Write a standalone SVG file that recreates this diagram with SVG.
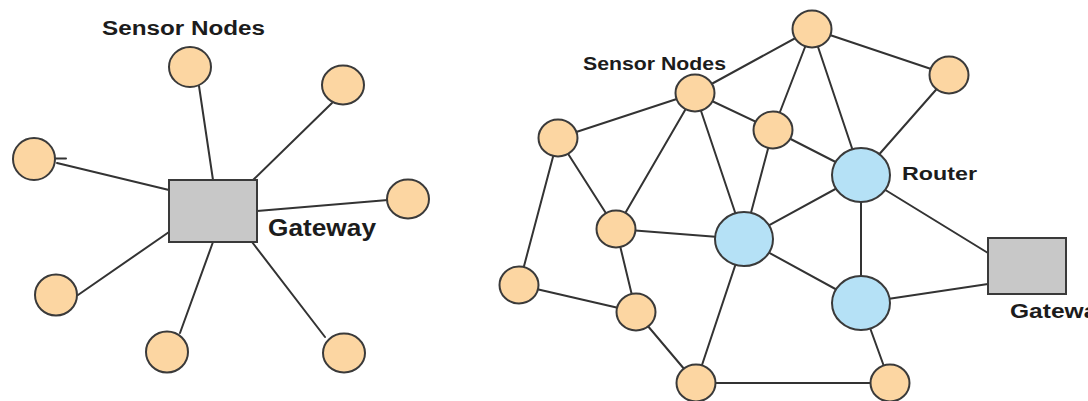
<svg xmlns="http://www.w3.org/2000/svg" width="1088" height="401" viewBox="0 0 1088 401">
<style>
.bg{fill:#ffffff}
.e line{stroke:#333333;stroke-width:2;stroke-linecap:round}
.s{fill:#fcd6a2;stroke:#3a3a3a;stroke-width:2}
.r{fill:#b5e1f6;stroke:#3a3a3a;stroke-width:2}
.g{fill:#c8c8c8;stroke:#3a3a3a;stroke-width:2}
.t{font-family:"Liberation Sans",Arial,sans-serif;font-weight:bold;fill:#1c1c1c}
</style>
<rect class="bg" x="0" y="0" width="1088" height="401"/>
<g id="connectors" class="e">
  <!-- star -->
  <line x1="199" y1="86" x2="213" y2="180"/>
  <line x1="332" y1="103" x2="253" y2="180"/>
  <line x1="57" y1="163" x2="169" y2="190"/>
  <line x1="55" y1="158.5" x2="66" y2="158.5"/>
  <line x1="388" y1="200" x2="257" y2="211"/>
  <line x1="78" y1="295" x2="169" y2="232"/>
  <line x1="180" y1="333" x2="213" y2="242"/>
  <line x1="325" y1="337" x2="252" y2="242"/>
  <!-- mesh -->
  <line x1="812" y1="29" x2="695" y2="93"/>
  <line x1="812" y1="29" x2="949" y2="75"/>
  <line x1="812" y1="29" x2="773" y2="130"/>
  <line x1="812" y1="29" x2="861" y2="175"/>
  <line x1="949" y1="75" x2="861" y2="175"/>
  <line x1="695" y1="93" x2="558" y2="138"/>
  <line x1="695" y1="93" x2="773" y2="130"/>
  <line x1="773" y1="130" x2="861" y2="175"/>
  <line x1="695" y1="93" x2="616" y2="229"/>
  <line x1="695" y1="93" x2="744" y2="239"/>
  <line x1="773" y1="130" x2="744" y2="239"/>
  <line x1="558" y1="138" x2="616" y2="229"/>
  <line x1="558" y1="138" x2="519" y2="285"/>
  <line x1="616" y1="229" x2="744" y2="239"/>
  <line x1="616" y1="229" x2="636" y2="312"/>
  <line x1="744" y1="239" x2="861" y2="175"/>
  <line x1="744" y1="239" x2="861" y2="303"/>
  <line x1="744" y1="239" x2="696" y2="383"/>
  <line x1="861" y1="175" x2="861" y2="303"/>
  <line x1="861" y1="175" x2="988" y2="253"/>
  <line x1="861" y1="303" x2="988" y2="284"/>
  <line x1="861" y1="303" x2="890" y2="383"/>
  <line x1="519" y1="285" x2="636" y2="312"/>
  <line x1="636" y1="312" x2="696" y2="383"/>
  <line x1="696" y1="383" x2="890" y2="383"/>
</g>
<g id="star-gateway"><rect class="g" x="169" y="180" width="88" height="62"/></g>
<g id="star-n1"><ellipse class="s" cx="190" cy="67" rx="21" ry="20"/></g>
<g id="star-n2"><ellipse class="s" cx="343" cy="85" rx="21" ry="19.5"/></g>
<g id="star-n3"><ellipse class="s" cx="34" cy="159" rx="21" ry="21"/></g>
<g id="star-n4"><ellipse class="s" cx="408" cy="199" rx="21" ry="19.5"/></g>
<g id="star-n5"><ellipse class="s" cx="56" cy="295" rx="21" ry="20.5"/></g>
<g id="star-n6"><ellipse class="s" cx="167" cy="352" rx="21" ry="20.5"/></g>
<g id="star-n7"><ellipse class="s" cx="344" cy="353" rx="21" ry="19.5"/></g>
<g id="mesh-gateway"><rect class="g" x="988" y="238" width="78" height="56"/></g>
<g id="mesh-t"><ellipse class="s" cx="812" cy="29" rx="19.5" ry="18.5"/></g>
<g id="mesh-tr"><ellipse class="s" cx="949" cy="75" rx="19.5" ry="18.5"/></g>
<g id="mesh-s"><ellipse class="s" cx="695" cy="93" rx="19.5" ry="18.5"/></g>
<g id="mesh-m"><ellipse class="s" cx="773" cy="130" rx="19.5" ry="18.5"/></g>
<g id="mesh-l1"><ellipse class="s" cx="558" cy="138" rx="19.5" ry="18.5"/></g>
<g id="mesh-ml"><ellipse class="s" cx="616" cy="229" rx="19.5" ry="18.5"/></g>
<g id="mesh-l2"><ellipse class="s" cx="519" cy="285" rx="19.5" ry="18.5"/></g>
<g id="mesh-lm"><ellipse class="s" cx="636" cy="312" rx="19.5" ry="18.5"/></g>
<g id="mesh-b1"><ellipse class="s" cx="696" cy="383" rx="19.5" ry="18.5"/></g>
<g id="mesh-b2"><ellipse class="s" cx="890" cy="383" rx="19.5" ry="18.5"/></g>
<g id="mesh-r1"><ellipse class="r" cx="861" cy="175" rx="29" ry="27"/></g>
<g id="mesh-r2"><ellipse class="r" cx="744" cy="239" rx="29" ry="27"/></g>
<g id="mesh-r3"><ellipse class="r" cx="861" cy="303" rx="29" ry="27"/></g>
<g id="labels">
  <text class="t" x="102" y="35" font-size="20" textLength="163" lengthAdjust="spacingAndGlyphs">Sensor Nodes</text>
  <text class="t" x="268" y="236" font-size="23" textLength="108" lengthAdjust="spacingAndGlyphs">Gateway</text>
  <text class="t" x="583" y="70" font-size="17.5" textLength="143" lengthAdjust="spacingAndGlyphs">Sensor Nodes</text>
  <text class="t" x="902" y="180" font-size="18.5" textLength="75" lengthAdjust="spacingAndGlyphs">Router</text>
  <text class="t" x="1010" y="318" font-size="19.5" textLength="101" lengthAdjust="spacingAndGlyphs">Gateway</text>
</g>
</svg>
